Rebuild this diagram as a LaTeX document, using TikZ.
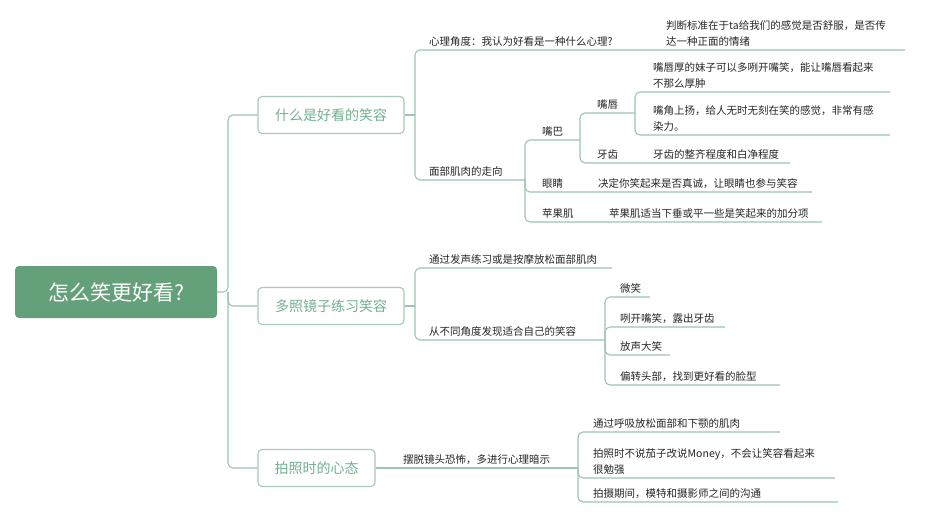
\documentclass[tikz,border=0pt]{standalone}
\usepackage{fontspec}
\setmainfont{Noto Sans CJK SC}
\begin{document}
\begin{tikzpicture}[x=1pt,y=-1pt,
  ln/.style={draw=lc,line width=1.1pt,rounded corners=5pt},
  lf/.style={anchor=south west,inner sep=1pt,font=\fontsize{10.5}{16}\selectfont,text=black!85,align=left},
  l1/.style={draw=lb,line width=1.1pt,rounded corners=4pt,text=lt,font=\fontsize{14}{15}\selectfont,inner sep=0pt,minimum height=37pt}]
\definecolor{lc}{HTML}{9CC5B0}
\definecolor{lb}{HTML}{A8C9B8}
\definecolor{lt}{HTML}{72B08F}
\definecolor{rt}{HTML}{64A079}
\useasboundingbox[fill=white] (0,0) rectangle (932,524);
% root
\node[fill=rt,rounded corners=4pt,minimum width=202pt,minimum height=52pt,text=white,font=\fontsize{21}{22}\selectfont] (root) at (116,292) {怎么笑更好看?};
\node[l1,minimum width=146pt] (b1) at (331,115) {什么是好看的笑容};
\node[l1,minimum width=146pt] (b2) at (331,306) {多照镜子练习笑容};
\node[l1,minimum width=117pt] (b3) at (316.5,468) {拍照时的心态};
\draw[ln] (root.east) -- (228,292) |- (b1.west);
\draw[ln] (228,292) |- (b2.west);
\draw[ln] (228,292) |- (b3.west);
% branch 1
\coordinate (j1) at (415,115);
\draw[ln] (b1.east) -- (j1);
\draw[ln] (j1) |- (905,50);
\draw[ln] (j1) |- (525,180);
\node[lf] (t11) at (428,48) {心理角度：我认为好看是一种什么心理?};
\node[lf] (t11a) at (665,48) {判断标准在于ta给我们的感觉是否舒服，是否传\\达一种正面的情绪};
\node[lf] (t12) at (428,178) {面部肌肉的走向};
\coordinate (j2) at (525,180);
\draw[ln] (j2) |- (580,140);
\draw[ln] (j2) |- (812,192);
\draw[ln] (j2) |- (822,222);
\node[lf] (t21) at (541,138) {嘴巴};
\node[lf] (t22) at (541,190) {眼睛};
\node[lf] (t22a) at (597,190) {决定你笑起来是否真诚，让眼睛也参与笑容};
\node[lf] (t23) at (541,220) {苹果肌};
\node[lf] (t23a) at (608,220) {苹果肌适当下垂或平一些是笑起来的加分项};
\coordinate (j3) at (580,140);
\draw[ln] (j3) |- (635,113);
\draw[ln] (j3) |- (790,163);
\node[lf] (t31) at (596,111) {嘴唇};
\node[lf] (t32) at (596,161) {牙齿};
\node[lf] (t32a) at (652,161) {牙齿的整齐程度和白净程度};
\coordinate (j4) at (635,113);
\draw[ln] (j4) |- (890,92);
\draw[ln] (j4) |- (890,135);
\node[lf] (t41) at (652,90) {嘴唇厚的妹子可以多咧开嘴笑，能让嘴唇看起来\\不那么厚肿};
\node[lf] (t42) at (652,133) {嘴角上扬，给人无时无刻在笑的感觉，非常有感\\染力。};
% branch 2
\coordinate (k1) at (415,306);
\draw[ln] (b2.east) -- (k1);
\draw[ln] (k1) |- (612,268);
\draw[ln] (k1) |- (605,340);
\node[lf] (u1) at (428,266) {通过发声练习或是按摩放松面部肌肉};
\node[lf] (u2) at (428,338) {从不同角度发现适合自己的笑容};
\coordinate (k2) at (605,340);
\draw[ln] (k2) |- (650,297);
\draw[ln] (k2) |- (725,327);
\draw[ln] (k2) |- (670,355);
\draw[ln] (k2) |- (780,385);
\node[lf] (v1) at (619,295) {微笑};
\node[lf] (v2) at (619,325) {咧开嘴笑，露出牙齿};
\node[lf] (v3) at (619,353) {放声大笑};
\node[lf] (v4) at (619,383) {偏转头部，找到更好看的脸型};
% branch 3
\coordinate (m1) at (578,468);
\draw[ln] (b3.east) -- (m1);
\node[lf] (w0) at (402,466) {摆脱镜头恐怖，多进行心理暗示};
\draw[ln] (m1) |- (780,432);
\draw[ln] (m1) |- (835,478);
\draw[ln] (m1) |- (838,502);
\node[lf] (w1) at (592,430) {通过呼吸放松面部和下颚的肌肉};
\node[lf] (w2) at (592,476) {拍照时不说茄子改说Money，不会让笑容看起来\\很勉强};
\node[lf] (w3) at (592,500) {拍摄期间，模特和摄影师之间的沟通};
\end{tikzpicture}
\end{document}
